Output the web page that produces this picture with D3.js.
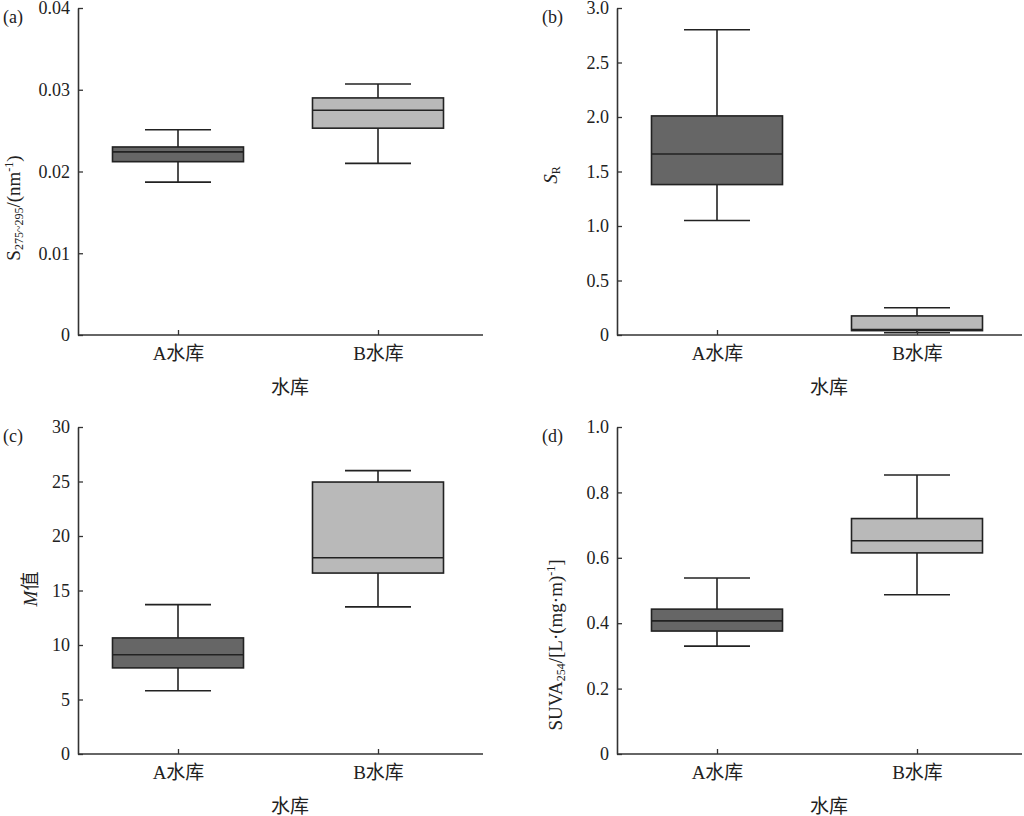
<!DOCTYPE html>
<html>
<head>
<meta charset="utf-8">
<script src="https://cdn.jsdelivr.net/npm/d3@7"></script>
<style>
  html, body { margin: 0; padding: 0; background: #fff; }
  svg text { font-family: "Liberation Serif", "Noto Sans CJK SC", serif; fill: #222; }
</style>
</head>
<body>
<svg id="chart" width="1024" height="816"></svg>
<script>
// ---- data ----
const categories = ["A水库", "B水库"];
const xAxisTitle = "水库";
// box stats: [min, q1, median, q3, max]
const slopeBoxes = [[0.0187, 0.0212, 0.0224, 0.0230, 0.0251], [0.0210, 0.0253, 0.0275, 0.0290, 0.0307]];
const srBoxes    = [[1.05, 1.38, 1.66, 2.01, 2.80], [0.02, 0.04, 0.05, 0.175, 0.25]];
const mBoxes     = [[5.8, 7.9, 9.1, 10.65, 13.7], [13.5, 16.6, 18.0, 24.95, 26.0]];
const suvaBoxes  = [[0.33, 0.376, 0.407, 0.443, 0.538], [0.487, 0.615, 0.652, 0.720, 0.853]];
const slopeTicks = [0, 0.01, 0.02, 0.03, 0.04];
const slopeTickLabels = ["0", "0.01", "0.02", "0.03", "0.04"];
const srTicks = [0, 0.5, 1.0, 1.5, 2.0, 2.5, 3.0];
const srTickLabels = ["0", "0.5", "1.0", "1.5", "2.0", "2.5", "3.0"];
const mTicks = [0, 5, 10, 15, 20, 25, 30];
const mTickLabels = ["0", "5", "10", "15", "20", "25", "30"];
const suvaTicks = [0, 0.2, 0.4, 0.6, 0.8, 1.0];
const suvaTickLabels = ["0", "0.2", "0.4", "0.6", "0.8", "1.0"];
const panelLetters = ["(a)", "(b)", "(c)", "(d)"];

const boxFills = ["#666666", "#b9b9b9"];

const svg = d3.select("#chart");

const panels = [
  { letter: panelLetters[0], boxes: slopeBoxes, ticks: slopeTicks, labels: slopeTickLabels,
    left: 78, top: 8, titleX: 20, titleY: 208,
    title: [{t: "S"}, {t: "275~295", sub: true}, {t: "/(nm"}, {t: "-1", sup: true}, {t: ")"}] },
  { letter: panelLetters[1], boxes: srBoxes, ticks: srTicks, labels: srTickLabels,
    left: 617, top: 8, titleX: 557, titleY: 175,
    title: [{t: "S", it: true}, {t: "R", sub: true}] },
  { letter: panelLetters[2], boxes: mBoxes, ticks: mTicks, labels: mTickLabels,
    left: 78, top: 427, titleX: 37, titleY: 589,
    title: [{t: "M", it: true}, {t: "值"}] },
  { letter: panelLetters[3], boxes: suvaBoxes, ticks: suvaTicks, labels: suvaTickLabels,
    left: 617, top: 427, titleX: 562, titleY: 645,
    title: [{t: "SUVA"}, {t: "254", sub: true}, {t: "/[L·(mg·m)"}, {t: "-1", sup: true}, {t: "]"}] }
];

const plotW = 405, plotH = 327;

panels.forEach(p => {
  const g = svg.append("g").attr("transform", `translate(${p.left},${p.top})`);
  const y = d3.scaleLinear().domain([p.ticks[0], p.ticks[p.ticks.length - 1]]).range([plotH, 0]);
  const x = d3.scalePoint().domain(categories).range([0, 400]).padding(0.5);
  const boxW = 131, capW = 66;

  const bg = g.selectAll("g.box").data(p.boxes).join("g").attr("class", "box");
  bg.each(function(d, i) {
    const s = d3.select(this);
    const cx = x(categories[i]);
    const stroke = "#222";
    s.append("line").attr("x1", cx).attr("x2", cx).attr("y1", y(d[4])).attr("y2", y(d[3]))
      .attr("stroke", stroke).attr("stroke-width", 1.6);
    s.append("line").attr("x1", cx).attr("x2", cx).attr("y1", y(d[1])).attr("y2", y(d[0]))
      .attr("stroke", stroke).attr("stroke-width", 1.6);
    s.append("line").attr("x1", cx - capW / 2).attr("x2", cx + capW / 2).attr("y1", y(d[4])).attr("y2", y(d[4]))
      .attr("stroke", stroke).attr("stroke-width", 1.6);
    s.append("line").attr("x1", cx - capW / 2).attr("x2", cx + capW / 2).attr("y1", y(d[0])).attr("y2", y(d[0]))
      .attr("stroke", stroke).attr("stroke-width", 1.6);
    s.append("rect").attr("x", cx - boxW / 2).attr("width", boxW)
      .attr("y", y(d[3])).attr("height", y(d[1]) - y(d[3]))
      .attr("fill", boxFills[i]).attr("stroke", stroke).attr("stroke-width", 1.6);
    s.append("line").attr("x1", cx - boxW / 2).attr("x2", cx + boxW / 2).attr("y1", y(d[2])).attr("y2", y(d[2]))
      .attr("stroke", stroke).attr("stroke-width", 1.6);
  });

  const yAxis = d3.axisLeft(y).tickValues(p.ticks).tickFormat((v, i) => p.labels[i]).tickSizeInner(-5).tickSizeOuter(0).tickPadding(8);
  const ya = g.append("g").call(yAxis);
  ya.select(".domain").attr("stroke", "#333").attr("stroke-width", 1.6);
  ya.selectAll(".tick line").attr("stroke", "#333").attr("stroke-width", 1.3);
  ya.selectAll(".tick text").attr("font-size", 18).attr("fill", "#222");

  const xAxis = d3.axisBottom(x).tickSizeInner(-5).tickSizeOuter(0).tickPadding(12);
  const xa = g.append("g").attr("transform", `translate(0,${plotH})`).call(xAxis);
  xa.select(".domain").remove();
  xa.append("line").attr("x1", 0).attr("x2", plotW).attr("stroke", "#333").attr("stroke-width", 1.6);
  xa.selectAll(".tick line").attr("stroke", "#333").attr("stroke-width", 1.3);
  xa.selectAll(".tick text").attr("font-size", 19).attr("fill", "#222");

  g.append("text").attr("x", 212).attr("y", plotH + 59).attr("text-anchor", "middle")
    .attr("font-size", 19).text(xAxisTitle);

  svg.append("text").attr("x", p.left - 75).attr("y", p.top + 15).attr("font-size", 18).text(p.letter);

  const t = svg.append("text").attr("text-anchor", "middle").attr("font-size", 19)
    .attr("transform", `translate(${p.titleX},${p.titleY}) rotate(-90)`);
  p.title.forEach(part => {
    const ts = t.append("tspan").text(part.t);
    if (part.it) ts.attr("font-style", "italic");
    if (part.sub) ts.attr("font-size", 12).attr("baseline-shift", "-25%");
    if (part.sup) ts.attr("font-size", 12).attr("baseline-shift", "55%");
  });
});
</script>
</body>
</html>
